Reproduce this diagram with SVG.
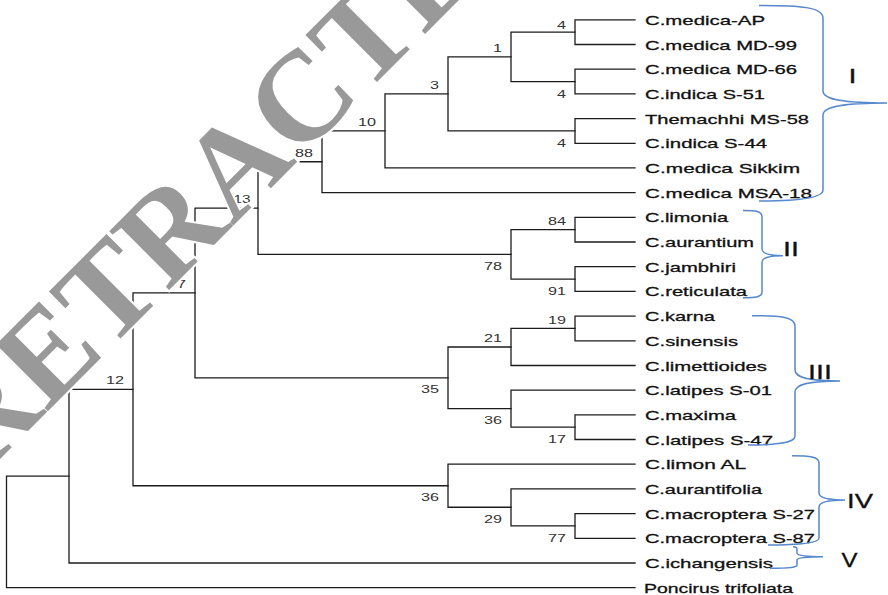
<svg xmlns="http://www.w3.org/2000/svg" width="888" height="595" viewBox="0 0 888 595">
<style>
.br{fill:none;stroke:#1c1c1c;stroke-width:1.3;stroke-linecap:square}
.lf{font-family:"Liberation Sans",Arial,sans-serif;font-size:13.5px;fill:#111;stroke:#111;stroke-width:0.3}
.bs{font-family:"Liberation Sans",Arial,sans-serif;font-size:11.5px;fill:#333}
.cb{fill:none;stroke:#5588cc;stroke-width:1.5}
.rn{font-family:"Liberation Sans",Arial,sans-serif;font-size:20.5px;fill:#111;stroke:#111;stroke-width:0.3;text-anchor:middle}
.wm{font-family:"Liberation Serif","Times New Roman",serif;font-weight:bold;font-size:128px;fill:#999;stroke:#fff;stroke-width:4;paint-order:stroke}
</style>
<rect width="888" height="595" fill="#fff"/>
<g id="connectors">
<path class="br" d="M635,19.8H575V44.5H635"/>
<path class="br" d="M635,69.2H575V93.9H635"/>
<path class="br" d="M575,32.15H511V81.55H575"/>
<path class="br" d="M635,118.6H575V143.3H635"/>
<path class="br" d="M511,56.85H448V130.95H575"/>
<path class="br" d="M448,93.9H385V167.9H635"/>
<path class="br" d="M385,130.9H322V192.6H635"/>
<path class="br" d="M635,217.3H575V242H635"/>
<path class="br" d="M635,266.7H575V291.4H635"/>
<path class="br" d="M575,229.65H511V279.05H575"/>
<path class="br" d="M322,161.75H258V254.35H511"/>
<path class="br" d="M635,316.1H575V340.8H635"/>
<path class="br" d="M575,328.45H511V365.5H635"/>
<path class="br" d="M635,414.8H575V439.5H635"/>
<path class="br" d="M635,390.2H511V427.15H575"/>
<path class="br" d="M511,347H448V408.7H511"/>
<path class="br" d="M258,208.05H195V377.85H448"/>
<path class="br" d="M635,513.6H575V538.3H635"/>
<path class="br" d="M635,488.9H511V525.95H575"/>
<path class="br" d="M635,464.2H448V507.25H511"/>
<path class="br" d="M195,292.95H133V485.75H448"/>
<path class="br" d="M133,389.4H69V563H635"/>
<path class="br" d="M69,476.2H6.5V587.7H635"/>
</g>
<g id="leaves">
<g id="leaf-medica-AP"><text class="lf" x="645" y="24.8" textLength="120" lengthAdjust="spacingAndGlyphs">C.medica-AP</text></g>
<g id="leaf-medica-MD99"><text class="lf" x="645" y="49.5" textLength="152" lengthAdjust="spacingAndGlyphs">C.medica MD-99</text></g>
<g id="leaf-medica-MD66"><text class="lf" x="645" y="74.2" textLength="152" lengthAdjust="spacingAndGlyphs">C.medica MD-66</text></g>
<g id="leaf-indica-S51"><text class="lf" x="645" y="98.9" textLength="120" lengthAdjust="spacingAndGlyphs">C.indica S-51</text></g>
<g id="leaf-themachhi"><text class="lf" x="645" y="123.6" textLength="164" lengthAdjust="spacingAndGlyphs">Themachhi MS-58</text></g>
<g id="leaf-indica-S44"><text class="lf" x="645" y="148.3" textLength="122" lengthAdjust="spacingAndGlyphs">C.indica S-44</text></g>
<g id="leaf-medica-sikkim"><text class="lf" x="645" y="172.9" textLength="155" lengthAdjust="spacingAndGlyphs">C.medica Sikkim</text></g>
<g id="leaf-medica-MSA18"><text class="lf" x="645" y="197.6" textLength="167" lengthAdjust="spacingAndGlyphs">C.medica MSA-18</text></g>
<g id="leaf-limonia"><text class="lf" x="645" y="222.3" textLength="83" lengthAdjust="spacingAndGlyphs">C.limonia</text></g>
<g id="leaf-aurantium"><text class="lf" x="645" y="247" textLength="109" lengthAdjust="spacingAndGlyphs">C.aurantium</text></g>
<g id="leaf-jambhiri"><text class="lf" x="645" y="271.7" textLength="91" lengthAdjust="spacingAndGlyphs">C.jambhiri</text></g>
<g id="leaf-reticulata"><text class="lf" x="645" y="296.4" textLength="102" lengthAdjust="spacingAndGlyphs">C.reticulata</text></g>
<g id="leaf-karna"><text class="lf" x="645" y="321.1" textLength="70" lengthAdjust="spacingAndGlyphs">C.karna</text></g>
<g id="leaf-sinensis"><text class="lf" x="645" y="345.8" textLength="93" lengthAdjust="spacingAndGlyphs">C.sinensis</text></g>
<g id="leaf-limettioides"><text class="lf" x="645" y="370.5" textLength="122" lengthAdjust="spacingAndGlyphs">C.limettioides</text></g>
<g id="leaf-latipes-S01"><text class="lf" x="645" y="395.2" textLength="127" lengthAdjust="spacingAndGlyphs">C.latipes S-01</text></g>
<g id="leaf-maxima"><text class="lf" x="645" y="419.8" textLength="91" lengthAdjust="spacingAndGlyphs">C.maxima</text></g>
<g id="leaf-latipes-S47"><text class="lf" x="645" y="444.5" textLength="128" lengthAdjust="spacingAndGlyphs">C.latipes S-47</text></g>
<g id="leaf-limon-AL"><text class="lf" x="645" y="469.2" textLength="101" lengthAdjust="spacingAndGlyphs">C.limon AL</text></g>
<g id="leaf-aurantifolia"><text class="lf" x="645" y="493.9" textLength="117" lengthAdjust="spacingAndGlyphs">C.aurantifolia</text></g>
<g id="leaf-macroptera-S27"><text class="lf" x="645" y="518.6" textLength="170" lengthAdjust="spacingAndGlyphs">C.macroptera S-27</text></g>
<g id="leaf-macroptera-S87"><text class="lf" x="645" y="543.3" textLength="170" lengthAdjust="spacingAndGlyphs">C.macroptera S-87</text></g>
<g id="leaf-ichangensis"><text class="lf" x="645" y="568" textLength="128" lengthAdjust="spacingAndGlyphs">C.ichangensis</text></g>
<g id="leaf-poncirus"><text class="lf" x="644" y="592.7" textLength="149" lengthAdjust="spacingAndGlyphs">Poncirus trifoliata</text></g>
</g>
<g id="internal-nodes">
<g id="node-a"><text class="bs" x="557" y="28.5" textLength="9" lengthAdjust="spacingAndGlyphs">4</text></g>
<g id="node-b"><text class="bs" x="493" y="52" textLength="9" lengthAdjust="spacingAndGlyphs">1</text></g>
<g id="node-c"><text class="bs" x="557" y="97.5" textLength="9" lengthAdjust="spacingAndGlyphs">4</text></g>
<g id="node-d"><text class="bs" x="557" y="147" textLength="9" lengthAdjust="spacingAndGlyphs">4</text></g>
<g id="node-e"><text class="bs" x="430" y="89" textLength="9" lengthAdjust="spacingAndGlyphs">3</text></g>
<g id="node-f"><text class="bs" x="358" y="126" textLength="18" lengthAdjust="spacingAndGlyphs">10</text></g>
<g id="node-g"><text class="bs" x="295" y="156.5" textLength="18" lengthAdjust="spacingAndGlyphs">88</text></g>
<g id="node-h"><text class="bs" x="233.5" y="203" textLength="17" lengthAdjust="spacingAndGlyphs">13</text></g>
<g id="node-i"><text class="bs" x="177" y="288" textLength="9" lengthAdjust="spacingAndGlyphs">7</text></g>
<g id="node-j"><text class="bs" x="106" y="384" textLength="18" lengthAdjust="spacingAndGlyphs">12</text></g>
<g id="node-k"><text class="bs" x="421" y="392.5" textLength="18" lengthAdjust="spacingAndGlyphs">35</text></g>
<g id="node-l"><text class="bs" x="548" y="225" textLength="18" lengthAdjust="spacingAndGlyphs">84</text></g>
<g id="node-m"><text class="bs" x="484" y="270" textLength="18" lengthAdjust="spacingAndGlyphs">78</text></g>
<g id="node-n"><text class="bs" x="548" y="295" textLength="18" lengthAdjust="spacingAndGlyphs">91</text></g>
<g id="node-o"><text class="bs" x="548" y="324" textLength="18" lengthAdjust="spacingAndGlyphs">19</text></g>
<g id="node-p"><text class="bs" x="484" y="342" textLength="18" lengthAdjust="spacingAndGlyphs">21</text></g>
<g id="node-q"><text class="bs" x="484" y="424" textLength="18" lengthAdjust="spacingAndGlyphs">36</text></g>
<g id="node-r"><text class="bs" x="548" y="442.5" textLength="18" lengthAdjust="spacingAndGlyphs">17</text></g>
<g id="node-s"><text class="bs" x="484" y="522.5" textLength="18" lengthAdjust="spacingAndGlyphs">29</text></g>
<g id="node-t"><text class="bs" x="548" y="541.5" textLength="18" lengthAdjust="spacingAndGlyphs">77</text></g>
<g id="node-u"><text class="bs" x="421" y="501" textLength="18" lengthAdjust="spacingAndGlyphs">36</text></g>
</g>
<g id="clusters">
<g id="cluster-I"><path class="cb" d="M759,5.5C800,5.5 823,7 823,18L823,91C823,100 845,103 887,103C845,103 823,106 823,115L823,190C823,198 800,201 759,201"/><text class="rn" x="852.5" y="82.5" textLength="8" lengthAdjust="spacingAndGlyphs">I</text></g>
<g id="cluster-II"><path class="cb" d="M743,210.5C756,210.5 762,211 762,217L762,249C762,254 770,255.7 783,255.7C770,255.7 762,257 762,262L762,292C762,297 756,297.7 743,297.7"/><text class="rn" x="791" y="255.5" textLength="16" lengthAdjust="spacingAndGlyphs">II</text></g>
<g id="cluster-III"><path class="cb" d="M752,315.7C782,315.7 795,317 795,326L795,370C795,378 810,381 840,381C810,381 795,384 795,392L795,436C795,443 778,445 748,445"/><text class="rn" x="820" y="379" textLength="24" lengthAdjust="spacingAndGlyphs">III</text></g>
<g id="cluster-IV"><path class="cb" d="M792,455.7C810,455.7 819,457 819,463L819,493C819,498 830,500 845,500C830,500 819,502 819,507L819,538C819,543 800,545 768,545"/><text class="rn" x="860" y="508" textLength="26" lengthAdjust="spacingAndGlyphs">IV</text></g>
<g id="cluster-V"><path class="cb" d="M793,546.7C795,546.7 797,547 797,549L797,553C797,555.5 805,556.7 823,556.7C805,556.7 797,558 797,560L797,565C797,567.5 790,568.3 770,568.3"/><text class="rn" x="849.5" y="567" textLength="16" lengthAdjust="spacingAndGlyphs">V</text></g>
</g>
<text class="wm" transform="translate(-19,478) rotate(-45)">RETRACTED</text>
</svg>
